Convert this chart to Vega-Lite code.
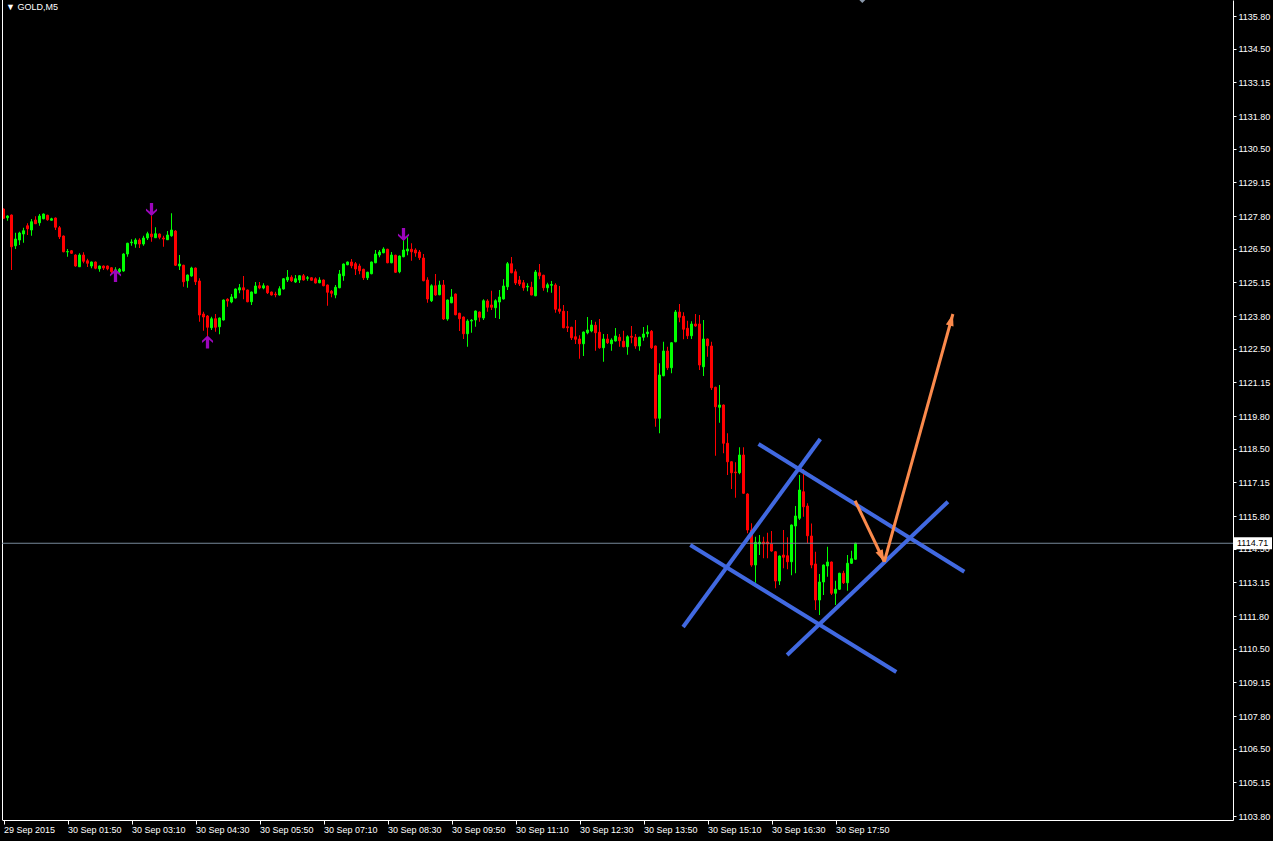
{
  "$schema": "https://vega.github.io/schema/vega-lite/v6.json",
  "width": 1231,
  "height": 820,
  "autosize": {"type": "none"},
  "padding": {"left": 2, "top": 0, "right": 40, "bottom": 21},
  "background": "#000000",
  "config": {"view": {"stroke": null}, "axis": {"grid": false, "labelOverlap": false}},
  "title": {"text": "▼ GOLD,M5", "anchor": "start", "frame": "group", "offset": -19.5, "baseline": "alphabetic", "dx": 4, "color": "#ffffff", "font": "Liberation Sans", "fontSize": 9, "fontWeight": "normal"},
  "datasets": {
    "candles": [
      {"i":0,"o":1128.08,"h":1128.10,"l":1127.70,"c":1127.71},
      {"i":1,"o":1127.73,"h":1127.83,"l":1127.61,"c":1127.80},
      {"i":2,"o":1127.84,"h":1127.86,"l":1125.64,"c":1126.57},
      {"i":3,"o":1126.61,"h":1127.13,"l":1126.48,"c":1126.88},
      {"i":4,"o":1126.84,"h":1127.17,"l":1126.64,"c":1127.12},
      {"i":5,"o":1127.08,"h":1127.33,"l":1126.73,"c":1127.21},
      {"i":6,"o":1127.41,"h":1127.51,"l":1127.04,"c":1127.29},
      {"i":7,"o":1127.24,"h":1127.68,"l":1127.01,"c":1127.57},
      {"i":8,"o":1127.64,"h":1127.79,"l":1127.48,"c":1127.49},
      {"i":9,"o":1127.53,"h":1127.88,"l":1127.41,"c":1127.80},
      {"i":10,"o":1127.69,"h":1127.90,"l":1127.67,"c":1127.88},
      {"i":11,"o":1127.83,"h":1127.85,"l":1127.61,"c":1127.65},
      {"i":12,"o":1127.63,"h":1127.73,"l":1127.62,"c":1127.69},
      {"i":13,"o":1127.72,"h":1127.74,"l":1127.24,"c":1127.35},
      {"i":14,"o":1127.33,"h":1127.40,"l":1126.88,"c":1126.97},
      {"i":15,"o":1127.00,"h":1127.02,"l":1126.35,"c":1126.37},
      {"i":16,"o":1126.36,"h":1126.48,"l":1126.17,"c":1126.38},
      {"i":17,"o":1126.41,"h":1126.44,"l":1126.28,"c":1126.31},
      {"i":18,"o":1126.24,"h":1126.27,"l":1125.77,"c":1125.80},
      {"i":19,"o":1125.77,"h":1126.31,"l":1125.76,"c":1126.24},
      {"i":20,"o":1126.24,"h":1126.35,"l":1125.91,"c":1125.99},
      {"i":21,"o":1126.01,"h":1126.09,"l":1125.76,"c":1125.91},
      {"i":22,"o":1125.80,"h":1125.98,"l":1125.71,"c":1125.96},
      {"i":23,"o":1125.96,"h":1125.98,"l":1125.67,"c":1125.71},
      {"i":24,"o":1125.69,"h":1125.82,"l":1125.57,"c":1125.80},
      {"i":25,"o":1125.80,"h":1125.82,"l":1125.64,"c":1125.72},
      {"i":26,"o":1125.80,"h":1125.82,"l":1125.63,"c":1125.69},
      {"i":27,"o":1125.73,"h":1125.75,"l":1125.50,"c":1125.57},
      {"i":28,"o":1125.62,"h":1125.75,"l":1125.44,"c":1125.65},
      {"i":29,"o":1125.57,"h":1125.72,"l":1125.51,"c":1125.67},
      {"i":30,"o":1125.60,"h":1126.31,"l":1125.57,"c":1126.28},
      {"i":31,"o":1126.28,"h":1126.73,"l":1126.17,"c":1126.71},
      {"i":32,"o":1126.73,"h":1126.87,"l":1126.61,"c":1126.76},
      {"i":33,"o":1126.68,"h":1126.91,"l":1126.53,"c":1126.84},
      {"i":34,"o":1126.84,"h":1126.91,"l":1126.52,"c":1126.68},
      {"i":35,"o":1126.68,"h":1127.01,"l":1126.61,"c":1126.92},
      {"i":36,"o":1126.92,"h":1127.17,"l":1126.84,"c":1127.09},
      {"i":37,"o":1127.08,"h":1127.80,"l":1126.77,"c":1126.97},
      {"i":38,"o":1126.93,"h":1127.35,"l":1126.92,"c":1127.09},
      {"i":39,"o":1127.08,"h":1127.10,"l":1126.87,"c":1126.95},
      {"i":40,"o":1126.92,"h":1127.01,"l":1126.57,"c":1126.88},
      {"i":41,"o":1126.85,"h":1127.20,"l":1126.84,"c":1127.04},
      {"i":42,"o":1127.01,"h":1127.91,"l":1126.97,"c":1127.24},
      {"i":43,"o":1127.20,"h":1127.24,"l":1125.80,"c":1125.83},
      {"i":44,"o":1125.80,"h":1126.24,"l":1125.64,"c":1125.88},
      {"i":45,"o":1125.83,"h":1125.85,"l":1124.97,"c":1125.17},
      {"i":46,"o":1125.21,"h":1125.46,"l":1124.93,"c":1125.44},
      {"i":47,"o":1125.40,"h":1125.77,"l":1125.37,"c":1125.72},
      {"i":48,"o":1125.72,"h":1125.74,"l":1125.04,"c":1125.17},
      {"i":49,"o":1125.20,"h":1125.31,"l":1123.57,"c":1123.84},
      {"i":50,"o":1123.88,"h":1123.97,"l":1123.21,"c":1123.76},
      {"i":51,"o":1123.80,"h":1123.84,"l":1122.91,"c":1123.35},
      {"i":52,"o":1123.33,"h":1123.77,"l":1123.24,"c":1123.69},
      {"i":53,"o":1123.69,"h":1123.88,"l":1123.17,"c":1123.35},
      {"i":54,"o":1123.37,"h":1123.74,"l":1123.07,"c":1123.72},
      {"i":55,"o":1123.64,"h":1124.46,"l":1123.62,"c":1124.44},
      {"i":56,"o":1124.47,"h":1124.51,"l":1124.17,"c":1124.40},
      {"i":57,"o":1124.36,"h":1124.68,"l":1124.31,"c":1124.56},
      {"i":58,"o":1124.52,"h":1124.90,"l":1124.50,"c":1124.88},
      {"i":59,"o":1124.84,"h":1125.08,"l":1124.71,"c":1124.93},
      {"i":60,"o":1124.93,"h":1125.40,"l":1124.47,"c":1124.84},
      {"i":61,"o":1124.84,"h":1124.86,"l":1124.35,"c":1124.37},
      {"i":62,"o":1124.37,"h":1124.78,"l":1124.24,"c":1124.76},
      {"i":63,"o":1124.71,"h":1125.16,"l":1124.69,"c":1125.00},
      {"i":64,"o":1125.01,"h":1125.16,"l":1124.87,"c":1124.92},
      {"i":65,"o":1124.92,"h":1125.11,"l":1124.87,"c":1125.01},
      {"i":66,"o":1125.00,"h":1125.02,"l":1124.68,"c":1124.73},
      {"i":67,"o":1124.76,"h":1124.78,"l":1124.62,"c":1124.64},
      {"i":68,"o":1124.68,"h":1124.77,"l":1124.55,"c":1124.65},
      {"i":69,"o":1124.64,"h":1124.99,"l":1124.62,"c":1124.89},
      {"i":70,"o":1124.88,"h":1125.31,"l":1124.86,"c":1125.29},
      {"i":71,"o":1125.24,"h":1125.64,"l":1125.16,"c":1125.35},
      {"i":72,"o":1125.35,"h":1125.43,"l":1125.16,"c":1125.21},
      {"i":73,"o":1125.16,"h":1125.44,"l":1125.12,"c":1125.29},
      {"i":74,"o":1125.24,"h":1125.43,"l":1125.12,"c":1125.41},
      {"i":75,"o":1125.41,"h":1125.48,"l":1125.22,"c":1125.24},
      {"i":76,"o":1125.31,"h":1125.40,"l":1125.21,"c":1125.33},
      {"i":77,"o":1125.33,"h":1125.35,"l":1125.21,"c":1125.23},
      {"i":78,"o":1125.29,"h":1125.35,"l":1125.10,"c":1125.12},
      {"i":79,"o":1125.13,"h":1125.35,"l":1125.11,"c":1125.24},
      {"i":80,"o":1125.24,"h":1125.26,"l":1124.99,"c":1125.01},
      {"i":81,"o":1125.04,"h":1125.06,"l":1124.21,"c":1124.75},
      {"i":82,"o":1124.79,"h":1124.84,"l":1124.55,"c":1124.71},
      {"i":83,"o":1124.64,"h":1125.04,"l":1124.51,"c":1124.95},
      {"i":84,"o":1124.93,"h":1125.64,"l":1124.91,"c":1125.48},
      {"i":85,"o":1125.41,"h":1125.90,"l":1125.21,"c":1125.88},
      {"i":86,"o":1125.85,"h":1125.98,"l":1125.83,"c":1125.96},
      {"i":87,"o":1125.96,"h":1126.08,"l":1125.71,"c":1125.81},
      {"i":88,"o":1125.89,"h":1125.96,"l":1125.44,"c":1125.68},
      {"i":89,"o":1125.80,"h":1125.89,"l":1125.47,"c":1125.61},
      {"i":90,"o":1125.67,"h":1125.69,"l":1125.24,"c":1125.33},
      {"i":91,"o":1125.33,"h":1125.57,"l":1125.24,"c":1125.55},
      {"i":92,"o":1125.49,"h":1125.98,"l":1125.47,"c":1125.96},
      {"i":93,"o":1125.93,"h":1126.44,"l":1125.91,"c":1126.28},
      {"i":94,"o":1126.24,"h":1126.44,"l":1126.15,"c":1126.36},
      {"i":95,"o":1126.33,"h":1126.55,"l":1126.31,"c":1126.48},
      {"i":96,"o":1126.47,"h":1126.49,"l":1125.91,"c":1125.93},
      {"i":97,"o":1125.93,"h":1126.36,"l":1125.91,"c":1126.24},
      {"i":98,"o":1126.23,"h":1126.25,"l":1125.52,"c":1125.55},
      {"i":99,"o":1125.57,"h":1126.22,"l":1125.51,"c":1126.20},
      {"i":100,"o":1126.17,"h":1126.97,"l":1126.15,"c":1126.44},
      {"i":101,"o":1126.40,"h":1126.95,"l":1126.23,"c":1126.48},
      {"i":102,"o":1126.47,"h":1126.71,"l":1126.01,"c":1126.37},
      {"i":103,"o":1126.44,"h":1126.51,"l":1126.17,"c":1126.32},
      {"i":104,"o":1126.36,"h":1126.44,"l":1126.04,"c":1126.13},
      {"i":105,"o":1126.12,"h":1126.28,"l":1125.19,"c":1125.21},
      {"i":106,"o":1125.24,"h":1125.35,"l":1124.33,"c":1124.48},
      {"i":107,"o":1124.41,"h":1125.07,"l":1124.36,"c":1125.01},
      {"i":108,"o":1125.01,"h":1125.48,"l":1124.61,"c":1124.64},
      {"i":109,"o":1124.65,"h":1125.21,"l":1124.63,"c":1125.04},
      {"i":110,"o":1125.04,"h":1125.24,"l":1123.64,"c":1123.68},
      {"i":111,"o":1123.68,"h":1124.46,"l":1123.61,"c":1124.44},
      {"i":112,"o":1124.33,"h":1124.88,"l":1124.31,"c":1124.56},
      {"i":113,"o":1124.68,"h":1124.70,"l":1123.83,"c":1123.85},
      {"i":114,"o":1123.91,"h":1123.93,"l":1123.20,"c":1123.69},
      {"i":115,"o":1123.76,"h":1123.78,"l":1122.88,"c":1123.09},
      {"i":116,"o":1123.09,"h":1123.67,"l":1122.57,"c":1123.60},
      {"i":117,"o":1123.60,"h":1123.68,"l":1123.13,"c":1123.63},
      {"i":118,"o":1123.64,"h":1124.02,"l":1123.37,"c":1124.00},
      {"i":119,"o":1123.96,"h":1123.98,"l":1123.57,"c":1123.75},
      {"i":120,"o":1123.72,"h":1124.47,"l":1123.64,"c":1124.41},
      {"i":121,"o":1124.40,"h":1124.47,"l":1123.97,"c":1124.15},
      {"i":122,"o":1124.24,"h":1124.81,"l":1124.04,"c":1124.15},
      {"i":123,"o":1124.13,"h":1124.47,"l":1123.72,"c":1124.41},
      {"i":124,"o":1124.36,"h":1124.84,"l":1123.68,"c":1124.56},
      {"i":125,"o":1124.48,"h":1125.27,"l":1124.46,"c":1125.00},
      {"i":126,"o":1124.97,"h":1125.96,"l":1124.84,"c":1125.89},
      {"i":127,"o":1125.89,"h":1126.16,"l":1125.51,"c":1125.53},
      {"i":128,"o":1125.57,"h":1125.67,"l":1125.04,"c":1125.12},
      {"i":129,"o":1125.24,"h":1125.40,"l":1125.00,"c":1125.08},
      {"i":130,"o":1125.13,"h":1125.24,"l":1124.81,"c":1124.93},
      {"i":131,"o":1124.96,"h":1125.11,"l":1124.79,"c":1124.99},
      {"i":132,"o":1124.95,"h":1125.17,"l":1124.63,"c":1124.64},
      {"i":133,"o":1124.61,"h":1125.64,"l":1124.59,"c":1125.56},
      {"i":134,"o":1125.53,"h":1125.88,"l":1125.27,"c":1125.41},
      {"i":135,"o":1125.43,"h":1125.45,"l":1124.81,"c":1124.93},
      {"i":136,"o":1124.93,"h":1125.13,"l":1124.75,"c":1125.05},
      {"i":137,"o":1125.03,"h":1125.20,"l":1124.73,"c":1125.06},
      {"i":138,"o":1125.04,"h":1125.11,"l":1123.93,"c":1124.07},
      {"i":139,"o":1124.08,"h":1125.00,"l":1123.89,"c":1123.99},
      {"i":140,"o":1123.99,"h":1124.24,"l":1123.31,"c":1123.33},
      {"i":141,"o":1123.37,"h":1124.00,"l":1123.16,"c":1123.33},
      {"i":142,"o":1123.35,"h":1123.37,"l":1122.84,"c":1122.93},
      {"i":143,"o":1122.97,"h":1123.64,"l":1122.68,"c":1122.87},
      {"i":144,"o":1122.88,"h":1123.03,"l":1122.09,"c":1122.69},
      {"i":145,"o":1122.69,"h":1123.18,"l":1122.20,"c":1123.16},
      {"i":146,"o":1123.13,"h":1123.76,"l":1123.07,"c":1123.24},
      {"i":147,"o":1123.20,"h":1123.64,"l":1123.15,"c":1123.44},
      {"i":148,"o":1123.43,"h":1123.57,"l":1122.41,"c":1123.13},
      {"i":149,"o":1123.15,"h":1123.68,"l":1122.49,"c":1122.53},
      {"i":150,"o":1122.53,"h":1123.08,"l":1121.97,"c":1122.88},
      {"i":151,"o":1122.88,"h":1123.08,"l":1122.68,"c":1122.73},
      {"i":152,"o":1122.69,"h":1122.91,"l":1122.41,"c":1122.84},
      {"i":153,"o":1122.80,"h":1123.32,"l":1122.78,"c":1123.00},
      {"i":154,"o":1122.95,"h":1123.08,"l":1122.57,"c":1122.81},
      {"i":155,"o":1122.79,"h":1123.21,"l":1122.55,"c":1122.57},
      {"i":156,"o":1122.57,"h":1123.03,"l":1122.25,"c":1122.97},
      {"i":157,"o":1122.99,"h":1123.40,"l":1122.71,"c":1122.95},
      {"i":158,"o":1122.95,"h":1123.08,"l":1122.49,"c":1122.60},
      {"i":159,"o":1122.60,"h":1122.97,"l":1122.41,"c":1122.95},
      {"i":160,"o":1122.95,"h":1123.36,"l":1122.81,"c":1123.08},
      {"i":161,"o":1123.09,"h":1123.43,"l":1122.95,"c":1123.16},
      {"i":162,"o":1123.19,"h":1123.24,"l":1122.48,"c":1122.53},
      {"i":163,"o":1122.60,"h":1122.62,"l":1119.37,"c":1119.71},
      {"i":164,"o":1119.71,"h":1121.91,"l":1119.11,"c":1121.44},
      {"i":165,"o":1121.41,"h":1122.77,"l":1121.39,"c":1122.40},
      {"i":166,"o":1122.40,"h":1122.57,"l":1121.64,"c":1121.73},
      {"i":167,"o":1121.73,"h":1122.75,"l":1121.51,"c":1122.73},
      {"i":168,"o":1122.77,"h":1124.04,"l":1122.75,"c":1123.96},
      {"i":169,"o":1123.96,"h":1124.28,"l":1123.55,"c":1123.75},
      {"i":170,"o":1123.79,"h":1123.95,"l":1122.87,"c":1123.27},
      {"i":171,"o":1123.31,"h":1123.61,"l":1122.88,"c":1123.01},
      {"i":172,"o":1123.01,"h":1123.59,"l":1122.88,"c":1123.48},
      {"i":173,"o":1123.48,"h":1123.88,"l":1123.37,"c":1123.40},
      {"i":174,"o":1123.48,"h":1123.84,"l":1121.64,"c":1121.84},
      {"i":175,"o":1121.77,"h":1123.64,"l":1121.40,"c":1122.88},
      {"i":176,"o":1122.88,"h":1122.90,"l":1122.17,"c":1122.61},
      {"i":177,"o":1122.60,"h":1122.77,"l":1120.84,"c":1120.93},
      {"i":178,"o":1120.95,"h":1120.97,"l":1118.21,"c":1120.17},
      {"i":179,"o":1120.15,"h":1121.04,"l":1119.53,"c":1120.24},
      {"i":180,"o":1120.24,"h":1120.26,"l":1118.31,"c":1118.71},
      {"i":181,"o":1118.71,"h":1119.11,"l":1117.44,"c":1117.97},
      {"i":182,"o":1117.97,"h":1117.99,"l":1116.88,"c":1117.53},
      {"i":183,"o":1117.56,"h":1117.95,"l":1116.53,"c":1117.53},
      {"i":184,"o":1117.53,"h":1118.55,"l":1117.47,"c":1118.24},
      {"i":185,"o":1118.24,"h":1118.55,"l":1116.69,"c":1116.71},
      {"i":186,"o":1116.68,"h":1116.71,"l":1115.11,"c":1115.24},
      {"i":187,"o":1115.24,"h":1115.51,"l":1113.77,"c":1113.84},
      {"i":188,"o":1113.84,"h":1114.97,"l":1113.13,"c":1114.75},
      {"i":189,"o":1114.68,"h":1115.04,"l":1114.24,"c":1114.75},
      {"i":190,"o":1114.76,"h":1114.97,"l":1114.11,"c":1114.68},
      {"i":191,"o":1114.76,"h":1115.13,"l":1114.11,"c":1114.68},
      {"i":192,"o":1114.68,"h":1115.20,"l":1114.37,"c":1114.40},
      {"i":193,"o":1114.37,"h":1114.39,"l":1112.91,"c":1113.20},
      {"i":194,"o":1113.20,"h":1114.22,"l":1113.04,"c":1114.20},
      {"i":195,"o":1114.24,"h":1115.24,"l":1113.71,"c":1114.15},
      {"i":196,"o":1114.21,"h":1114.95,"l":1113.67,"c":1113.97},
      {"i":197,"o":1113.97,"h":1115.46,"l":1113.43,"c":1115.44},
      {"i":198,"o":1115.40,"h":1116.20,"l":1113.51,"c":1115.80},
      {"i":199,"o":1115.71,"h":1117.44,"l":1115.64,"c":1116.84},
      {"i":200,"o":1116.77,"h":1117.68,"l":1115.77,"c":1116.17},
      {"i":201,"o":1116.20,"h":1116.31,"l":1114.71,"c":1115.01},
      {"i":202,"o":1115.00,"h":1115.50,"l":1113.71,"c":1113.84},
      {"i":203,"o":1113.88,"h":1114.37,"l":1112.04,"c":1112.44},
      {"i":204,"o":1112.44,"h":1113.48,"l":1111.84,"c":1113.16},
      {"i":205,"o":1113.16,"h":1113.86,"l":1112.64,"c":1113.84},
      {"i":206,"o":1113.80,"h":1114.57,"l":1113.37,"c":1113.96},
      {"i":207,"o":1113.96,"h":1113.98,"l":1112.64,"c":1112.71},
      {"i":208,"o":1112.71,"h":1113.21,"l":1112.24,"c":1112.87},
      {"i":209,"o":1112.87,"h":1113.53,"l":1112.84,"c":1113.51},
      {"i":210,"o":1113.51,"h":1113.61,"l":1113.08,"c":1113.13},
      {"i":211,"o":1113.13,"h":1114.24,"l":1112.81,"c":1113.91},
      {"i":212,"o":1113.91,"h":1114.41,"l":1113.88,"c":1114.09},
      {"i":213,"o":1114.07,"h":1114.73,"l":1114.05,"c":1114.71}
    ],
    "fractals": [
      {"i":28,"p":1125.42,"dir":"up"},
      {"i":37,"p":1128.06,"dir":"down"},
      {"i":51,"p":1122.76,"dir":"up"},
      {"i":100,"p":1127.06,"dir":"down"}
    ],
    "trendlines": [
      {"line":"A","i":188.75,"p":1118.68},
      {"line":"A","i":240.2,"p":1113.57},
      {"line":"B","i":171.7,"p":1114.64},
      {"line":"B","i":223.2,"p":1109.56},
      {"line":"C","i":169.9,"p":1111.36},
      {"line":"C","i":204.2,"p":1118.88},
      {"line":"D","i":195.9,"p":1110.24},
      {"line":"D","i":236.1,"p":1116.37}
    ],
    "arrows": [
      {"arrow":"down","pt":"tail","i":212.9,"p":1116.41},
      {"arrow":"down","pt":"tip","i":220.2,"p":1113.97},
      {"arrow":"up","pt":"tail","i":220.2,"p":1113.97},
      {"arrow":"up","pt":"tip","i":237.35,"p":1123.88}
    ],
    "bid": [{"price":1114.71}],
    "shift": [{"i":214.7}]
  },
  "layer": [
    {
      "data": {"name": "candles"},
      "mark": {"type": "rule", "strokeWidth": 1},
      "encoding": {
        "x": {"field": "i", "type": "quantitative",
              "scale": {"domain": [-0.375, 307.375], "nice": false, "zero": false, "padding": 0},
              "axis": {"values": [0,16,32,48,64,80,96,112,128,144,160,176,192,208], "tickCount": 40,
                       "labelExpr": "['29 Sep 2015','30 Sep 01:50','30 Sep 03:10','30 Sep 04:30','30 Sep 05:50','30 Sep 07:10','30 Sep 08:30','30 Sep 09:50','30 Sep 11:10','30 Sep 12:30','30 Sep 13:50','30 Sep 15:10','30 Sep 16:30','30 Sep 17:50'][round(datum.value / 16)]",
                       "domainColor": "#ffffff", "tickColor": "#ffffff", "tickSize": 4,
                       "labelColor": "#ffffff", "labelFont": "Liberation Sans", "labelFontSize": 9,
                       "labelAlign": "left", "labelPadding": 1, "labelFlush": false,
                       "labelOverlap": false, "labelBound": false, "title": null}},
        "y": {"field": "l", "type": "quantitative",
              "scale": {"domain": [1103.64, 1136.44], "nice": false, "zero": false},
              "axis": {"orient": "right", "tickCount": 40,
                       "values": [1103.8,1105.15,1106.5,1107.8,1109.15,1110.5,1111.8,1113.15,1114.5,1115.8,1117.15,1118.5,1119.8,1121.15,1122.5,1123.8,1125.15,1126.5,1127.8,1129.15,1130.5,1131.8,1133.15,1134.5,1135.8],
                       "format": ".2f", "domainColor": "#ffffff", "tickColor": "#ffffff", "tickSize": 3,
                       "labelColor": "#ffffff", "labelFont": "Liberation Sans", "labelFontSize": 9,
                       "labelPadding": 2, "labelFlush": false, "labelOverlap": false, "labelBound": false, "title": null}},
        "y2": {"field": "h"},
        "color": {"condition": {"test": "datum.c >= datum.o", "value": "#00ff00"}, "value": "#ff0000"}
      }
    },
    {
      "data": {"name": "candles"},
      "mark": {"type": "bar", "size": 2, "strokeWidth": 1},
      "encoding": {
        "x": {"field": "i", "type": "quantitative", "scale": {"domain": [-0.375, 307.375], "nice": false, "zero": false, "padding": 0}, "axis": {"title": null}},
        "y": {"field": "o", "type": "quantitative", "scale": {"domain": [1103.64, 1136.44], "nice": false, "zero": false}, "axis": {"title": null}},
        "y2": {"field": "c"},
        "color": {"condition": {"test": "datum.c >= datum.o", "value": "#00ff00"}, "value": "#ff0000"},
        "stroke": {"condition": {"test": "datum.c >= datum.o", "value": "#00ff00"}, "value": "#ff0000"}
      }
    },
    {
      "data": {"values": [{}]},
      "mark": {"type": "rule", "color": "#ffffff", "strokeWidth": 1},
      "encoding": {
        "x": {"datum": -0.25, "type": "quantitative", "scale": {"domain": [-0.375, 307.375], "nice": false, "zero": false, "padding": 0}, "axis": {"title": null}}
      }
    },
    {
      "data": {"name": "bid"},
      "mark": {"type": "rule", "color": "#778899", "strokeWidth": 1},
      "encoding": {
        "y": {"field": "price", "type": "quantitative", "scale": {"domain": [1103.64, 1136.44], "nice": false, "zero": false}, "axis": {"title": null}}
      }
    },
    {
      "data": {"name": "fractals"},
      "mark": {"type": "point", "filled": true, "opacity": 1, "size": 169, "color": "#9c06bc", "strokeWidth": 0},
      "encoding": {
        "x": {"field": "i", "type": "quantitative", "scale": {"domain": [-0.375, 307.375], "nice": false, "zero": false, "padding": 0}, "axis": {"title": null}},
        "y": {"field": "p", "type": "quantitative", "scale": {"domain": [1103.64, 1136.44], "nice": false, "zero": false}, "axis": {"title": null}},
        "shape": {"field": "dir", "type": "nominal", "legend": null,
                  "scale": {"domain": ["up", "down"],
                            "range": ["M0,-1 L0.85,-0.2 L0.85,0.15 L0.25,-0.35 L0.25,1 L-0.25,1 L-0.25,-0.35 L-0.85,0.15 L-0.85,-0.2 Z",
                                      "M0,1 L0.85,0.2 L0.85,-0.15 L0.25,0.35 L0.25,-1 L-0.25,-1 L-0.25,0.35 L-0.85,-0.15 L-0.85,0.2 Z"]}}
      }
    },
    {
      "data": {"name": "trendlines"},
      "mark": {"type": "line", "color": "#4169e1", "strokeWidth": 4},
      "encoding": {
        "x": {"field": "i", "type": "quantitative", "scale": {"domain": [-0.375, 307.375], "nice": false, "zero": false, "padding": 0}, "axis": {"title": null}},
        "y": {"field": "p", "type": "quantitative", "scale": {"domain": [1103.64, 1136.44], "nice": false, "zero": false}, "axis": {"title": null}},
        "detail": {"field": "line", "type": "nominal"}
      }
    },
    {
      "data": {"name": "arrows"},
      "mark": {"type": "line", "color": "#fb8a4c", "strokeWidth": 3},
      "encoding": {
        "x": {"field": "i", "type": "quantitative", "scale": {"domain": [-0.375, 307.375], "nice": false, "zero": false, "padding": 0}, "axis": {"title": null}},
        "y": {"field": "p", "type": "quantitative", "scale": {"domain": [1103.64, 1136.44], "nice": false, "zero": false}, "axis": {"title": null}},
        "detail": {"field": "arrow", "type": "nominal"}
      }
    },
    {
      "data": {"name": "arrows"},
      "transform": [{"filter": "datum.pt == 'tip' && datum.arrow == 'down'"}],
      "mark": {"type": "point", "filled": true, "opacity": 1, "size": 576, "strokeWidth": 0, "color": "#fb8a4c",
               "shape": "M0,0 L0.33,1 L-0.33,1 Z", "angle": 154.6},
      "encoding": {
        "x": {"field": "i", "type": "quantitative", "scale": {"domain": [-0.375, 307.375], "nice": false, "zero": false, "padding": 0}, "axis": {"title": null}},
        "y": {"field": "p", "type": "quantitative", "scale": {"domain": [1103.64, 1136.44], "nice": false, "zero": false}, "axis": {"title": null}}
      }
    },
    {
      "data": {"name": "arrows"},
      "transform": [{"filter": "datum.pt == 'tip' && datum.arrow == 'up'"}],
      "mark": {"type": "point", "filled": true, "opacity": 1, "size": 576, "strokeWidth": 0, "color": "#fb8a4c",
               "shape": "M0,0 L0.33,1 L-0.33,1 Z", "angle": 15.5},
      "encoding": {
        "x": {"field": "i", "type": "quantitative", "scale": {"domain": [-0.375, 307.375], "nice": false, "zero": false, "padding": 0}, "axis": {"title": null}},
        "y": {"field": "p", "type": "quantitative", "scale": {"domain": [1103.64, 1136.44], "nice": false, "zero": false}, "axis": {"title": null}}
      }
    },
    {
      "data": {"name": "shift"},
      "mark": {"type": "point", "filled": true, "opacity": 1, "size": 36, "strokeWidth": 0, "color": "#8a98aa",
               "shape": "M-1,0 L1,0 L0,1 Z"},
      "encoding": {
        "x": {"field": "i", "type": "quantitative", "scale": {"domain": [-0.375, 307.375], "nice": false, "zero": false, "padding": 0}, "axis": {"title": null}},
        "y": {"datum": 1136.44, "type": "quantitative", "scale": {"domain": [1103.64, 1136.44], "nice": false, "zero": false}, "axis": {"title": null}}
      }
    },
    {
      "data": {"name": "bid"},
      "mark": {"type": "point", "filled": true, "opacity": 1, "size": 1600, "strokeWidth": 0, "color": "#ffffff",
               "shape": "M0.05,-0.3 L1.95,-0.3 L1.95,0.3 L0.05,0.3 Z"},
      "encoding": {
        "x": {"datum": 307.375, "type": "quantitative", "scale": {"domain": [-0.375, 307.375], "nice": false, "zero": false, "padding": 0}, "axis": {"title": null}},
        "y": {"field": "price", "type": "quantitative", "scale": {"domain": [1103.64, 1136.44], "nice": false, "zero": false}, "axis": {"title": null}}
      }
    },
    {
      "data": {"name": "bid"},
      "mark": {"type": "text", "align": "left", "baseline": "middle", "dx": 4, "color": "#000000", "font": "Liberation Sans", "fontSize": 9},
      "encoding": {
        "x": {"datum": 307.375, "type": "quantitative", "scale": {"domain": [-0.375, 307.375], "nice": false, "zero": false, "padding": 0}, "axis": {"title": null}},
        "y": {"field": "price", "type": "quantitative", "scale": {"domain": [1103.64, 1136.44], "nice": false, "zero": false}, "axis": {"title": null}},
        "text": {"field": "price", "type": "quantitative", "format": ".2f"}
      }
    }
  ]
}
